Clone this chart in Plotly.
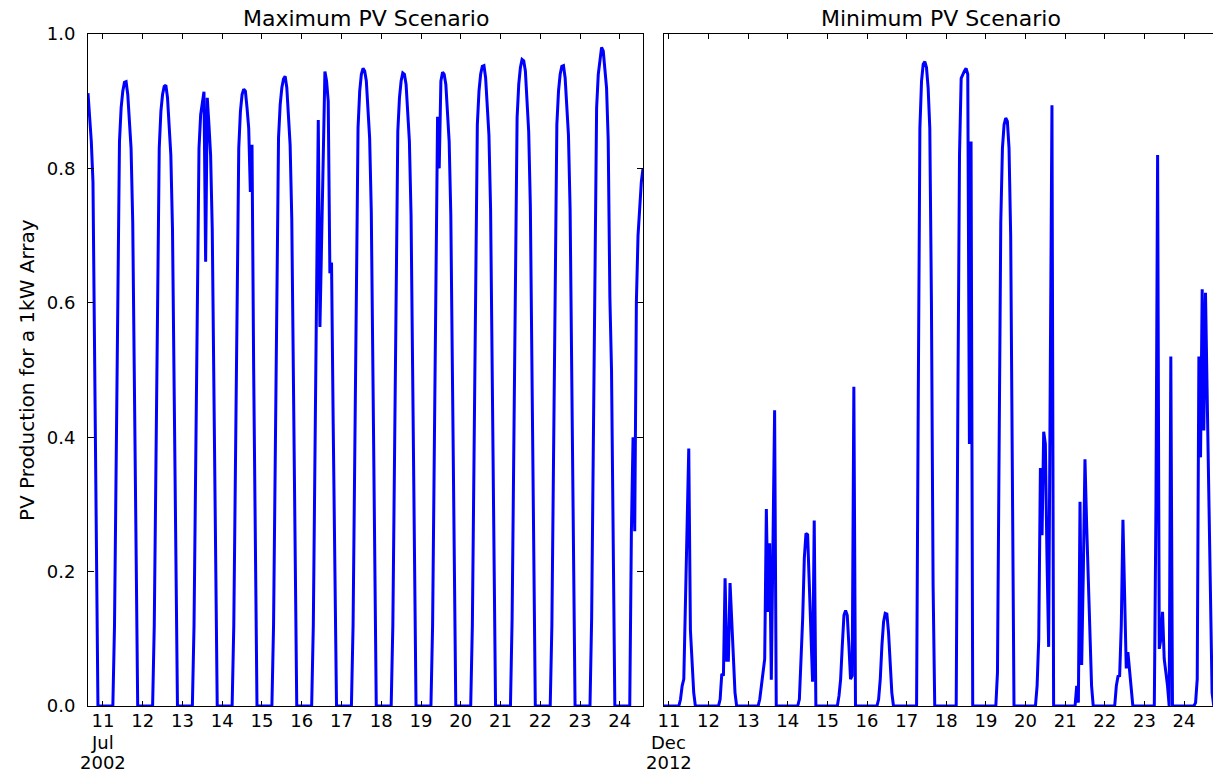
import plotly.graph_objects as go
import pandas as pd

# ---------------- data (hourly PV production, kW per 1 kW array) ----------------
# Maximum PV scenario: July 2002, hourly from 2002-07-10 15:00
jul_start = "2002-07-10 15:00"
jul_10 = [0.912, 0.88, 0.84, 0.78, 0.52, 0.24, 0, 0, 0]  # hours 15..23
jul_11 = [0, 0, 0, 0, 0, 0, 0, 0.12, 0.38, 0.68, 0.84, 0.89, 0.915, 0.928, 0.929, 0.91, 0.87, 0.83, 0.72, 0.49, 0.22, 0, 0, 0]
jul_12 = [0, 0, 0, 0, 0, 0, 0, 0.12, 0.38, 0.67, 0.83, 0.885, 0.91, 0.922, 0.924, 0.905, 0.865, 0.82, 0.71, 0.485, 0.22, 0, 0, 0]
jul_13 = [0, 0, 0, 0, 0, 0, 0, 0.12, 0.37, 0.67, 0.83, 0.88, 0.90, 0.914, 0.661, 0.905, 0.865, 0.82, 0.71, 0.48, 0.21, 0, 0, 0]
jul_14 = [0, 0, 0, 0, 0, 0, 0, 0.12, 0.37, 0.67, 0.83, 0.885, 0.91, 0.918, 0.915, 0.89, 0.86, 0.765, 0.835, 0.50, 0.21, 0, 0, 0]
jul_15 = [0, 0, 0, 0, 0, 0, 0, 0.12, 0.38, 0.68, 0.845, 0.895, 0.92, 0.933, 0.937, 0.92, 0.88, 0.835, 0.725, 0.495, 0.22, 0, 0, 0]
jul_16 = [0, 0, 0, 0, 0, 0, 0, 0.12, 0.38, 0.67, 0.872, 0.564, 0.69, 0.84, 0.944, 0.93, 0.90, 0.644, 0.66, 0.42, 0.18, 0, 0, 0]
jul_17 = [0, 0, 0, 0, 0, 0, 0, 0.12, 0.39, 0.69, 0.86, 0.915, 0.94, 0.949, 0.945, 0.93, 0.89, 0.845, 0.735, 0.50, 0.22, 0, 0, 0]
jul_18 = [0, 0, 0, 0, 0, 0, 0, 0.12, 0.38, 0.69, 0.855, 0.905, 0.93, 0.942, 0.94, 0.925, 0.885, 0.84, 0.73, 0.50, 0.22, 0, 0, 0]
jul_19 = [0, 0, 0, 0, 0, 0, 0, 0.12, 0.38, 0.68, 0.877, 0.80, 0.93, 0.943, 0.94, 0.925, 0.885, 0.84, 0.73, 0.50, 0.22, 0, 0, 0]
jul_20 = [0, 0, 0, 0, 0, 0, 0, 0.12, 0.39, 0.70, 0.865, 0.915, 0.94, 0.952, 0.953, 0.935, 0.895, 0.85, 0.74, 0.505, 0.22, 0, 0, 0]
jul_21 = [0, 0, 0, 0, 0, 0, 0, 0.13, 0.39, 0.70, 0.875, 0.925, 0.95, 0.962, 0.96, 0.945, 0.905, 0.855, 0.745, 0.51, 0.23, 0, 0, 0]
jul_22 = [0, 0, 0, 0, 0, 0, 0, 0.12, 0.39, 0.70, 0.865, 0.915, 0.94, 0.952, 0.953, 0.935, 0.895, 0.85, 0.74, 0.505, 0.22, 0, 0, 0]
jul_23 = [0, 0, 0, 0, 0, 0, 0, 0.13, 0.40, 0.72, 0.89, 0.94, 0.965, 0.98, 0.975, 0.95, 0.92, 0.842, 0.609, 0.50, 0.22, 0, 0, 0]
jul_24 = [0, 0, 0, 0, 0, 0, 0, 0.26, 0.40, 0.26, 0.60, 0.70, 0.75, 0.78, 0.80]  # hours 0..14

# Minimum PV scenario: December 2012, hourly from 2012-12-10 21:00
dec_start = "2012-12-10 21:00"
dec_10 = [0, 0, 0]  # hours 21..23
dec_11 = [0, 0, 0, 0, 0, 0, 0, 0.01, 0.03, 0.04, 0.14, 0.28, 0.383, 0.113, 0.075, 0.02, 0, 0, 0, 0, 0, 0, 0, 0]
dec_12 = [0, 0, 0, 0, 0, 0, 0, 0.01, 0.048, 0.045, 0.19, 0.068, 0.068, 0.183, 0.12, 0.06, 0.02, 0, 0, 0, 0, 0, 0, 0]
dec_13 = [0, 0, 0, 0, 0, 0, 0, 0.01, 0.03, 0.045, 0.07, 0.293, 0.14, 0.242, 0.039, 0.24, 0.44, 0, 0, 0, 0, 0, 0, 0]
dec_14 = [0, 0, 0, 0, 0, 0, 0, 0.01, 0.06, 0.13, 0.22, 0.257, 0.255, 0.19, 0.10, 0.036, 0.276, 0, 0, 0, 0, 0, 0, 0]
dec_15 = [0, 0, 0, 0, 0, 0, 0, 0.015, 0.04, 0.09, 0.135, 0.142, 0.135, 0.09, 0.04, 0.045, 0.475, 0, 0, 0, 0, 0, 0, 0]
dec_16 = [0, 0, 0, 0, 0, 0, 0, 0.01, 0.04, 0.09, 0.125, 0.138, 0.137, 0.11, 0.06, 0.02, 0, 0, 0, 0, 0, 0, 0, 0]
dec_17 = [0, 0, 0, 0, 0, 0, 0, 0.45, 0.86, 0.93, 0.955, 0.959, 0.95, 0.92, 0.86, 0.60, 0.18, 0, 0, 0, 0, 0, 0, 0]
dec_18 = [0, 0, 0, 0, 0, 0, 0, 0.45, 0.82, 0.934, 0.94, 0.945, 0.949, 0.94, 0.39, 0.84, 0, 0, 0, 0, 0, 0, 0, 0]
dec_19 = [0, 0, 0, 0, 0, 0, 0, 0.05, 0.40, 0.72, 0.83, 0.865, 0.875, 0.87, 0.83, 0.70, 0.35, 0, 0, 0, 0, 0, 0, 0]
dec_20 = [0, 0, 0, 0, 0, 0, 0, 0.03, 0.10, 0.354, 0.254, 0.408, 0.39, 0.22, 0.088, 0.50, 0.894, 0, 0, 0, 0, 0, 0, 0]
dec_21 = [0, 0, 0, 0, 0, 0, 0, 0.03, 0.005, 0.304, 0.061, 0.20, 0.367, 0.27, 0.18, 0.10, 0.03, 0, 0, 0, 0, 0, 0, 0]
dec_22 = [0, 0, 0, 0, 0, 0, 0, 0.03, 0.044, 0.045, 0.12, 0.277, 0.15, 0.056, 0.08, 0.05, 0.02, 0, 0, 0, 0, 0, 0, 0]
dec_23 = [0, 0, 0, 0, 0, 0, 0, 0.30, 0.82, 0.085, 0.10, 0.14, 0.07, 0.05, 0.03, 0, 0.52, 0, 0, 0, 0, 0, 0, 0]
dec_24 = [0, 0, 0, 0, 0, 0, 0, 0.005, 0.04, 0.52, 0.37, 0.62, 0.41, 0.615, 0.45, 0.30, 0.15, 0.02, 0, 0, 0]  # hours 0..20

# tick labels
jul_ticks = ["2002-07-%02d" % d for d in range(11, 25)]
jul_ticktext = [str(d) for d in range(11, 25)]
jul_month, jul_year = "Jul", "2002"
dec_ticks = ["2012-12-%02d" % d for d in range(11, 25)]
dec_ticktext = [str(d) for d in range(11, 25)]
dec_month, dec_year = "Dec", "2012"
y_ticks = [0.0, 0.2, 0.4, 0.6, 0.8, 1.0]
y_ticktext = ["0.0", "0.2", "0.4", "0.6", "0.8", "1.0"]

# ---------------- assemble series ----------------
jul_values = (jul_10 + jul_11 + jul_12 + jul_13 + jul_14 + jul_15 + jul_16 + jul_17
              + jul_18 + jul_19 + jul_20 + jul_21 + jul_22 + jul_23 + jul_24)
dec_values = (dec_10 + dec_11 + dec_12 + dec_13 + dec_14 + dec_15 + dec_16 + dec_17
              + dec_18 + dec_19 + dec_20 + dec_21 + dec_22 + dec_23 + dec_24)
jul_times = pd.date_range(jul_start, periods=len(jul_values), freq="h")
dec_times = pd.date_range(dec_start, periods=len(dec_values), freq="h")

# ---------------- figure ----------------
W, H = 1213, 772
FONT = "DejaVu Sans"
BLUE = "#0000ff"
TICK_SIZE = 18

fig = go.Figure()
fig.add_trace(go.Scatter(x=jul_times, y=jul_values, mode="lines",
                         line=dict(color=BLUE, width=3), xaxis="x", yaxis="y",
                         showlegend=False, hoverinfo="skip"))
fig.add_trace(go.Scatter(x=dec_times, y=dec_values, mode="lines",
                         line=dict(color=BLUE, width=3), xaxis="x2", yaxis="y2",
                         showlegend=False, hoverinfo="skip"))

ydom = [1 - 706 / H, 1 - 34 / H]
common_x = dict(type="date", showgrid=False, zeroline=False, showline=True,
                linecolor="black", linewidth=1, mirror="ticks", ticks="inside",
                ticklen=5, tickwidth=1, tickcolor="black", automargin=False,
                ticklabelstandoff=-2,
                tickfont=dict(family=FONT, size=TICK_SIZE, color="black"))

def text_ann(text, x, y_px, xref="paper", size=TICK_SIZE, angle=0):
    return dict(text=text, x=x, y=1 - y_px / H, xref=xref, yref="paper",
                showarrow=False, textangle=angle,
                font=dict(family=FONT, size=size, color="black"),
                xanchor="center", yanchor="middle")

annotations = [
    text_ann("Maximum PV Scenario", 365.5 / W, 19, size=22),
    text_ann("Minimum PV Scenario", 941 / W, 19, size=22),
    text_ann("PV Production for a 1kW Array", 27 / W, 370, size=20, angle=-90),
    text_ann(jul_month, jul_ticks[0], 742, xref="x"),
    text_ann(jul_year, jul_ticks[0], 762, xref="x"),
    text_ann(dec_month, dec_ticks[0], 742, xref="x2"),
    text_ann(dec_year, dec_ticks[0], 762, xref="x2"),
]

fig.update_layout(
    template="none",
    width=W, height=H,
    margin=dict(l=0, r=0, t=0, b=0, pad=0),
    paper_bgcolor="white", plot_bgcolor="white",
    font=dict(family=FONT, color="black"),
    xaxis=dict(domain=[88 / W, 643 / W], anchor="y",
               range=[jul_times[0], jul_times[-1]],
               tickmode="array", tickvals=jul_ticks, ticktext=jul_ticktext,
               **common_x),
    yaxis=dict(domain=ydom, anchor="x", range=[0, 1], automargin=False,
               tickmode="array", tickvals=y_ticks, ticktext=y_ticktext,
               showgrid=False, zeroline=False, showline=True, linecolor="black",
               linewidth=1, mirror="ticks", ticks="inside", ticklen=6,
               tickwidth=1, tickcolor="black", ticklabelstandoff=8,
               tickfont=dict(family=FONT, size=TICK_SIZE, color="black")),
    xaxis2=dict(domain=[664 / W, 1.0], anchor="y2",
                range=[dec_times[0], pd.Timestamp("2012-12-24 17:33")],
                tickmode="array", tickvals=dec_ticks, ticktext=dec_ticktext,
                **common_x),
    yaxis2=dict(domain=ydom, anchor="x2", range=[0, 1], automargin=False,
                showticklabels=False, ticks="", showgrid=False, zeroline=False,
                showline=True, linecolor="black", linewidth=1, mirror=False),
    annotations=annotations,
)

fig.write_html("out.html")
